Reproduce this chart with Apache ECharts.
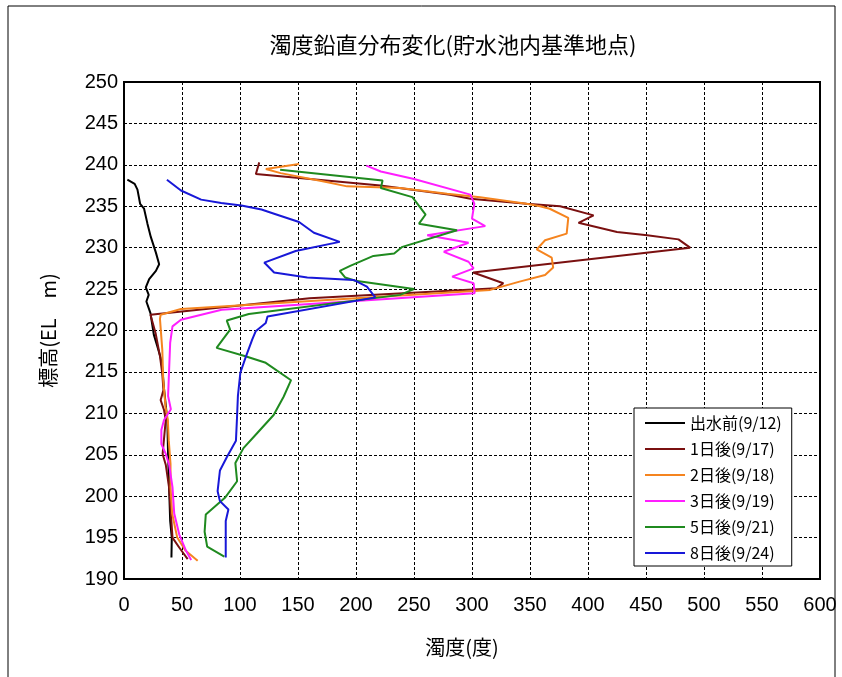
<!DOCTYPE html>
<html>
<head>
<meta charset="utf-8">
<script src="https://cdn.jsdelivr.net/npm/echarts@6/dist/echarts.min.js"></script>
<style>
html,body{margin:0;padding:0;background:#fff;}
#chart{width:842px;height:677px;}
</style>
</head>
<body>
<div id="chart"></div>
<script>
// ---- data (turbidity x, elevation y) ----
const seriesNames = ['出水前(9/12)', '1日後(9/17)', '2日後(9/18)', '3日後(9/19)', '5日後(9/21)', '8日後(9/24)'];
const seriesColors = ['#000000', '#7a1010', '#f5841f', '#ff1eff', '#1f8a1f', '#1818d8'];

const elev0 = [238.2, 237.7, 237.0, 235.3, 234.7, 232.9, 231.3, 229.4, 228.0, 227.2, 226.2, 225.2, 224.3, 223.5, 222.7, 222.1, 219.5, 218.1, 216.7, 215.5, 213.0, 211.0, 209.0, 205.0, 201.0, 197.0, 195.0, 192.6];
const turb0 = [2.9, 9.2, 11.6, 13.9, 17.3, 20.2, 23.1, 27.5, 30.3, 27.5, 21.7, 18.8, 21.3, 19.3, 21.3, 22.8, 25.7, 28.7, 31.6, 33.0, 34.5, 36.0, 37.4, 38.0, 38.9, 39.8, 41.2, 40.9];

const elev1 = [240.3, 238.9, 237.5, 236.4, 235.9, 235.3, 235.0, 233.9, 233.0, 231.9, 231.5, 231.0, 230.0, 227.0, 225.7, 225.1, 223.9, 221.9, 219.7, 216.9, 214.8, 212.8, 211.6, 210.4, 209.2, 205.1, 203.8, 201.0, 198.2, 195.0, 193.8, 192.4];
const turb1 = [116.6, 113.7, 221.0, 281.0, 298.6, 347.0, 376.0, 404.8, 391.8, 425.0, 451.0, 478.0, 488.0, 301.0, 327.0, 321.0, 160.0, 22.8, 27.2, 31.0, 33.0, 34.0, 31.6, 34.5, 36.0, 33.3, 36.0, 38.9, 40.3, 41.8, 47.6, 54.9];

const elev2 = [240.1, 239.5, 239.0, 238.0, 237.4, 237.2, 236.5, 236.1, 235.3, 235.0, 234.7, 233.6, 231.7, 230.9, 229.8, 228.8, 227.6, 226.7, 225.9, 224.9, 222.6, 221.9, 221.4, 217.7, 214.1, 210.8, 209.2, 206.7, 203.9, 201.1, 197.9, 195.0, 193.4, 192.2];
const turb2 = [150.9, 122.3, 135.0, 172.3, 192.3, 238.0, 278.6, 307.0, 347.0, 358.6, 367.0, 383.0, 381.6, 363.0, 355.8, 368.7, 370.0, 363.0, 341.0, 315.7, 49.1, 31.6, 31.0, 33.0, 33.8, 35.8, 37.8, 38.6, 40.1, 40.1, 41.5, 45.9, 53.2, 63.5];

const elev3 = [239.9, 239.2, 238.3, 236.4, 235.3, 233.5, 232.6, 231.5, 230.6, 229.5, 228.3, 227.5, 226.5, 225.7, 224.5, 222.5, 221.3, 220.5, 218.5, 215.3, 212.1, 210.5, 209.2, 208.0, 206.3, 205.1, 203.8, 201.1, 197.9, 195.4, 193.4, 192.3];
const turb3 = [208.9, 221.4, 250.0, 298.6, 302.0, 300.0, 311.4, 261.4, 297.0, 275.7, 297.0, 301.4, 282.9, 301.4, 302.3, 84.2, 49.1, 41.8, 39.8, 38.9, 38.0, 40.4, 34.5, 32.2, 32.2, 36.0, 38.9, 41.8, 43.3, 47.6, 53.5, 57.9];

const elev5 = [239.4, 238.1, 237.2, 236.1, 234.0, 232.9, 232.1, 230.1, 229.3, 229.0, 227.8, 227.2, 226.4, 226.0, 225.0, 224.3, 222.0, 221.2, 220.1, 217.9, 216.9, 216.1, 214.0, 212.0, 209.8, 207.6, 205.8, 204.0, 201.8, 199.8, 197.8, 195.7, 193.9, 192.7];
const turb5 = [134.6, 222.9, 221.4, 248.6, 260.0, 254.3, 287.1, 240.0, 232.9, 215.0, 195.0, 186.0, 190.6, 199.4, 250.0, 238.0, 107.6, 88.6, 91.5, 79.8, 104.7, 122.2, 144.0, 137.6, 129.0, 114.7, 103.0, 96.0, 97.5, 87.0, 70.5, 69.5, 71.7, 86.5];

const elev8 = [238.2, 236.9, 235.8, 235.4, 235.1, 234.6, 234.1, 233.1, 231.8, 230.7, 229.6, 228.2, 227.0, 226.4, 226.1, 225.3, 224.0, 221.7, 220.9, 219.9, 218.9, 216.7, 214.9, 212.1, 209.4, 206.7, 204.7, 203.1, 200.6, 199.4, 198.4, 197.0, 192.6];
const turb8 = [37.0, 49.1, 66.5, 83.8, 101.2, 118.5, 129.4, 150.9, 163.7, 186.0, 148.0, 120.9, 129.4, 158.0, 198.0, 209.4, 216.6, 123.7, 122.2, 113.5, 110.5, 104.7, 100.3, 98.2, 97.4, 96.5, 88.6, 82.7, 80.7, 82.7, 90.0, 87.7, 87.7];

const xTicks = {min: 0, max: 600, interval: 50};
const yTicks = {min: 190, max: 250, interval: 5};

const titleText = '濁度鉛直分布変化(貯水池内基準地点)';
const xName = '濁度(度)';
const yName = '標高(EL　m)';

const allTurb = [turb0, turb1, turb2, turb3, turb5, turb8];
const allElev = [elev0, elev1, elev2, elev3, elev5, elev8];

const numFont = "'Liberation Sans Narrow','Liberation Sans',Arial,sans-serif";
const jpFont = "'Noto Sans CJK JP','Noto Sans CJK SC',sans-serif";

const chart = echarts.init(document.getElementById('chart'), null, {renderer: 'canvas'});

const series = seriesNames.map((name, i) => ({
  name: name,
  type: 'line',
  showSymbol: false,
  symbol: 'none',
  data: allTurb[i].map((t, k) => [t, allElev[i][k]]),
  lineStyle: {color: seriesColors[i], width: 2},
  itemStyle: {color: seriesColors[i]},
  z: 3 + i
}));

const option = {
  animation: false,
  backgroundColor: '#ffffff',
  grid: {left: 124, right: 22, top: 82, bottom: 98, show: true, borderColor: '#000', borderWidth: 2, backgroundColor: 'transparent'},
  xAxis: {
    type: 'value', min: xTicks.min, max: xTicks.max, interval: xTicks.interval,
    name: xName, nameLocation: 'middle', nameGap: 58,
    nameTextStyle: {fontFamily: jpFont, fontSize: 20, color: '#000', padding: [0, 20, 0, 0]},
    axisLine: {show: true, lineStyle: {color: '#000', width: 2}},
    axisTick: {show: false},
    axisLabel: {fontFamily: numFont, fontSize: 20, color: '#000', margin: 16},
    splitLine: {show: true, lineStyle: {color: '#000', width: 1, type: [3, 2]}}
  },
  yAxis: {
    type: 'value', min: yTicks.min, max: yTicks.max, interval: yTicks.interval,
    name: yName, nameLocation: 'middle', nameGap: 66, nameRotate: 90,
    nameTextStyle: {fontFamily: jpFont, fontSize: 20, color: '#000'},
    axisLine: {show: true, lineStyle: {color: '#000', width: 2}},
    axisTick: {show: false},
    axisLabel: {fontFamily: numFont, fontSize: 20, color: '#000', margin: 6},
    splitLine: {show: true, lineStyle: {color: '#000', width: 1, type: [3, 2]}}
  },
  legend: {
    orient: 'vertical', left: 634, top: 408,
    backgroundColor: '#fff', borderColor: '#000', borderWidth: 1,
    padding: [7, 10, 5, 11],
    itemWidth: 40, itemHeight: 2, itemGap: 10, icon: 'rect',
    textStyle: {fontFamily: jpFont, fontSize: 16, color: '#000', lineHeight: 14},
    data: seriesNames
  },
  graphic: [
    {type: 'rect', shape: {x: 8, y: 6, width: 827, height: 700}, style: {fill: 'none', stroke: '#000', lineWidth: 1}, silent: true},
    {type: 'text', x: 453, y: 45, style: {text: titleText, fontFamily: jpFont, fontSize: 22, fill: '#000', align: 'center', verticalAlign: 'middle'}}
  ],
  series: series
};
chart.setOption(option);
</script>
</body>
</html>
